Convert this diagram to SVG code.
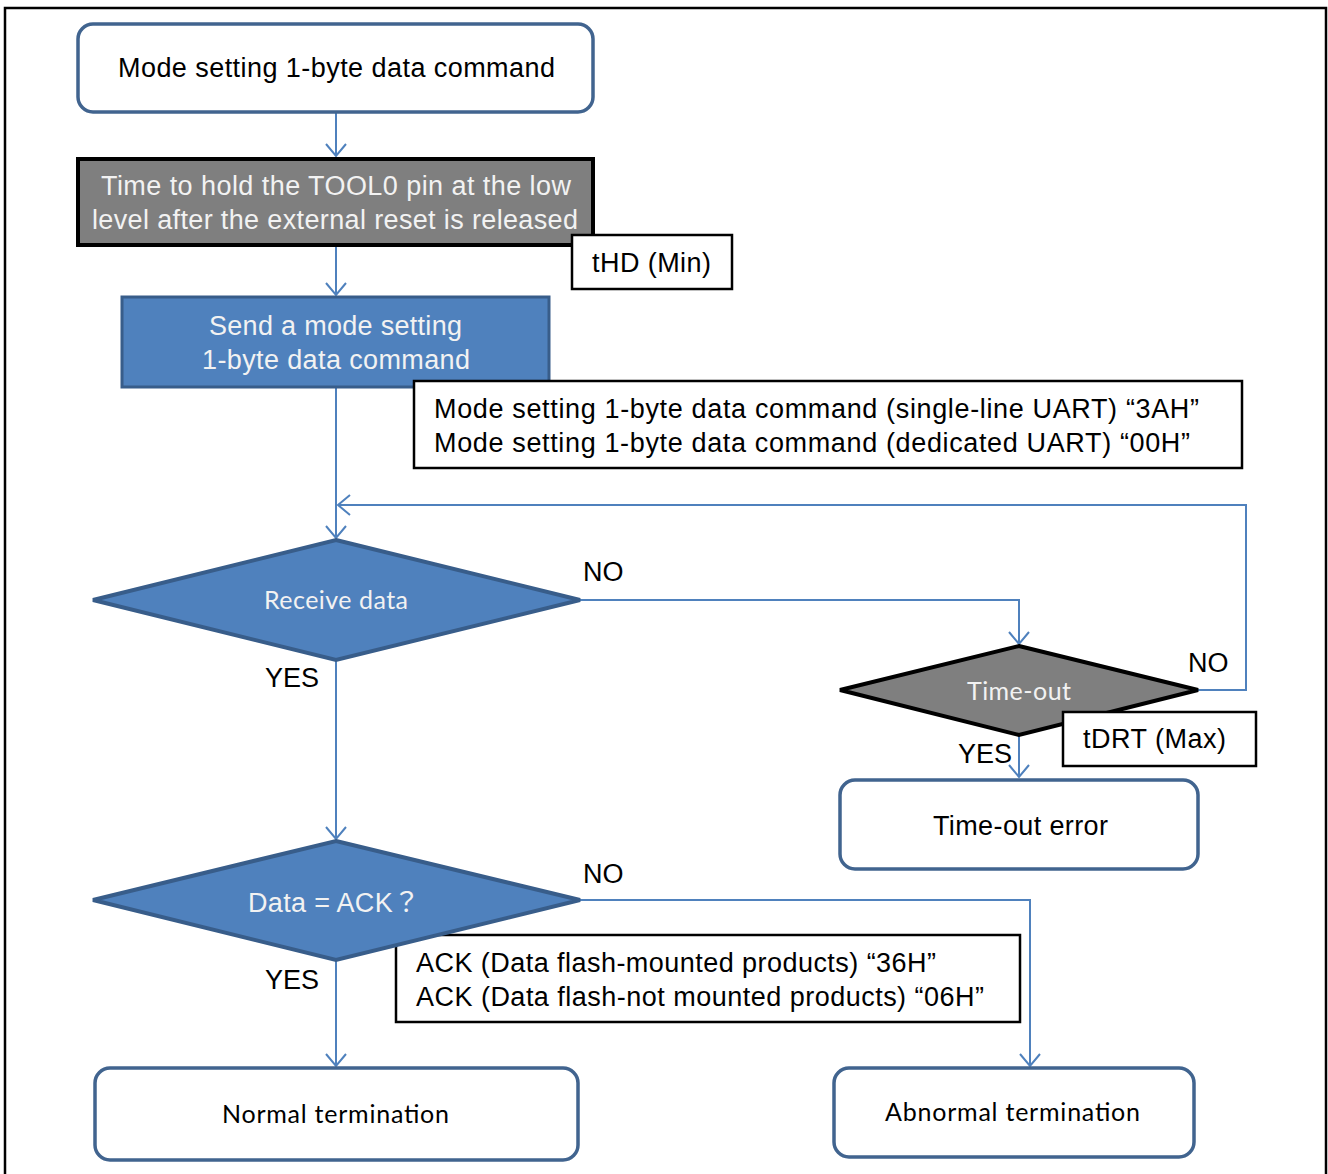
<svg xmlns="http://www.w3.org/2000/svg" width="1328" height="1174" viewBox="0 0 1328 1174">
<style>
.bg{fill:#ffffff}
.frame{fill:none;stroke:#000;stroke-width:2.5}
.term{fill:#ffffff;stroke:#41648f;stroke-width:3.5}
.grey{fill:#7f7f7f;stroke:#000;stroke-width:4}
.proc{fill:#4f81bd;stroke:#385d8a;stroke-width:3}
.dia{fill:#4f81bd;stroke:#385d8a;stroke-width:4}
.dia2{fill:#7f7f7f;stroke:#000;stroke-width:4}
.note{fill:#ffffff;stroke:#000;stroke-width:2.5}
.conn{fill:none;stroke:#4f81bd;stroke-width:2}
.a{font-family:"Liberation Sans",Arial,"Noto Sans CJK JP",sans-serif;font-size:27px;fill:#000}
.aw{font-family:"Liberation Sans",Arial,"Noto Sans CJK JP",sans-serif;font-size:27px;fill:#f2f2f2}
.c{font-family:Lato,"Open Sans",sans-serif;font-size:25px;fill:#000}
.cw{font-family:Lato,"Open Sans",sans-serif;font-size:25px;fill:#f2f2f2}
</style>
<defs>
<marker id="arr" markerUnits="userSpaceOnUse" viewBox="-14 -12 16 24" refX="0" refY="0" markerWidth="16" markerHeight="24" orient="auto" overflow="visible">
<path d="M-12,-10 L0,0 L-12,10" fill="none" stroke="#4f81bd" stroke-width="2"/>
</marker>
</defs>
<rect class="bg" x="0" y="0" width="1328" height="1174"/>
<rect class="frame" x="5" y="8" width="1321" height="1180"/>

<g id="connectors">
<path class="conn" d="M336,113 V156" marker-end="url(#arr)"/>
<path class="conn" d="M336,247 V295" marker-end="url(#arr)"/>
<path class="conn" d="M336,388 V538" marker-end="url(#arr)"/>
<path class="conn" d="M1198,690 H1246 V505 H338" marker-end="url(#arr)"/>
<path class="conn" d="M580,600 H1019 V644" marker-end="url(#arr)"/>
<path class="conn" d="M1019,736 V777" marker-end="url(#arr)"/>
<path class="conn" d="M336,661 V839" marker-end="url(#arr)"/>
<path class="conn" d="M580,900 H1030 V1066" marker-end="url(#arr)"/>
<path class="conn" d="M336,961 V1066" marker-end="url(#arr)"/>
</g>

<g id="n-start">
<rect class="term" x="78" y="24" width="515" height="88" rx="15"/>
<text class="a" x="118" y="77" textLength="437">Mode setting 1-byte data command</text>
</g>

<g id="n-hold">
<rect class="grey" x="78" y="159" width="515" height="86"/>
<text class="aw" x="101" y="195" textLength="470">Time to hold the TOOL0 pin at the low</text>
<text class="aw" x="92" y="229" textLength="486">level after the external reset is released</text>
</g>

<g id="n-thd">
<rect class="note" x="572" y="235" width="160" height="54"/>
<text class="a" x="592" y="272" textLength="119">tHD (Min)</text>
</g>

<g id="n-send">
<rect class="proc" x="122" y="297" width="427" height="90"/>
<text class="aw" x="209" y="335" textLength="253">Send a mode setting</text>
<text class="aw" x="202" y="369" textLength="268">1-byte data command</text>
</g>

<g id="n-modenote">
<rect class="note" x="414" y="381" width="828" height="87"/>
<text class="a" x="434" y="418" textLength="765">Mode setting 1-byte data command (single-line UART) “3AH”</text>
<text class="a" x="434" y="452" textLength="756">Mode setting 1-byte data command (dedicated UART) “00H”</text>
</g>

<g id="n-receive">
<polygon class="dia" points="336,540 580,600 336,660 93,600"/>
<text class="cw" x="264" y="609" textLength="144">Receive data</text>
</g>
<text class="a" x="583" y="581">NO</text>
<text class="a" x="265" y="687">YES</text>

<g id="n-timeout">
<polygon class="dia2" points="1019,646 1198,690 1019,735 840,690"/>
<text class="cw" x="967" y="700" textLength="104">Time-out</text>
</g>
<text class="a" x="1188" y="672">NO</text>

<g id="n-tdrt">
<rect class="note" x="1063" y="712" width="193" height="54"/>
<text class="a" x="1083" y="748" textLength="143">tDRT (Max)</text>
</g>
<text class="a" x="958" y="763">YES</text>

<g id="n-toerror">
<rect class="term" x="840" y="780" width="358" height="89" rx="15"/>
<text class="a" x="933" y="835" textLength="175">Time-out error</text>
</g>

<g id="n-acknote">
<rect class="note" x="396" y="935" width="624" height="87"/>
<text class="a" x="416" y="972" textLength="520">ACK (Data flash-mounted products) “36H”</text>
<text class="a" x="416" y="1006" textLength="568">ACK (Data flash-not mounted products) “06H”</text>
</g>

<g id="n-ack">
<polygon class="dia" points="336,841 580,900 336,960 93,900"/>
<text class="aw" x="248" y="912" textLength="172">Data = ACK？</text>
</g>
<text class="a" x="583" y="883">NO</text>
<text class="a" x="265" y="989">YES</text>

<g id="n-normal">
<rect class="term" x="95" y="1068" width="483" height="92" rx="15"/>
<text class="c" x="222" y="1123" textLength="227">Normal termination</text>
</g>

<g id="n-abnormal">
<rect class="term" x="834" y="1068" width="360" height="89" rx="15"/>
<text class="c" x="885" y="1121" textLength="255">Abnormal termination</text>
</g>
</svg>
